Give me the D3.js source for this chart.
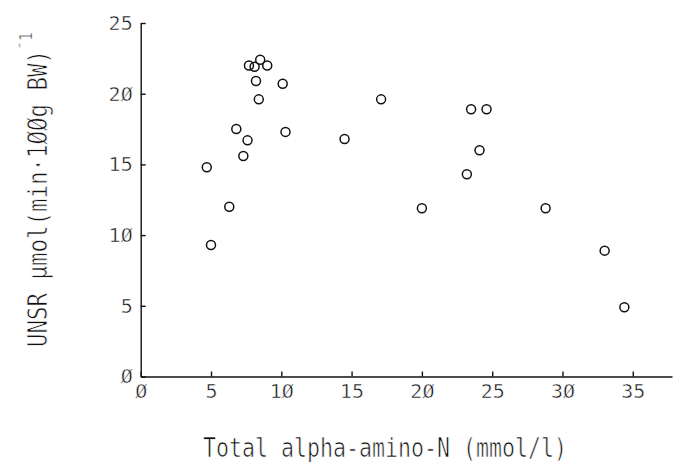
<!DOCTYPE html>
<html>
<head>
<meta charset="utf-8">
<script src="https://cdn.jsdelivr.net/npm/d3@7"></script>
<style>
    body { margin: 0; background: #fff; }
    .axis text { font-family: "DejaVu Sans Mono", monospace; font-size: 20px; fill: #111; stroke: #fff; stroke-width: 0.5px; }
    .axis path, .axis line { stroke: #111; stroke-width: 1.4; }
    .axis-title { font-family: "DejaVu Sans Mono", monospace; fill: #111; stroke: #fff; stroke-width: 0.7px; }
</style>
</head>
<body>
<svg id="chart"></svg>
<script>
// total alpha-amino-N (mmol/l) vs UNSR
const aminoN = [7.7, 8.1, 8.5, 9.0, 8.2, 10.1, 8.4, 17.1, 6.8, 10.3, 7.6, 14.5,
    7.3, 4.7, 6.3, 20.0, 5.0, 23.5, 24.6, 24.1, 23.2, 28.8, 33.0, 34.4];
const unsr = [22.0, 21.9, 22.4, 22.0, 20.9, 20.7, 19.6, 19.6, 17.5, 17.3, 16.7, 16.8,
    15.6, 14.8, 12.0, 11.9, 9.3, 18.9, 18.9, 16.0, 14.3, 11.9, 8.9, 4.9];
const xTicks = [0, 5, 10, 15, 20, 25, 30, 35];
const yTicks = [0, 5, 10, 15, 20, 25];
const xTitle = "Total alpha-amino-N (mmol/l)";
const yTitle = "UNSR \u03bcmol(min\u00b7100g BW)";

// the plotter drew slashed zeros
const slashed = s => String(s).replace(/0/g, "\u00d8");

class Scatterplot {
    constructor(_config, _data) {
        this.config = {
            parentElement: _config.parentElement,
            containerWidth: _config.containerWidth || 686,
            containerHeight: _config.containerHeight || 462,
            margin: _config.margin || { top: 23, right: 14, bottom: 85.5, left: 140.7 },
            pointSize: 4.5
        };
        this.data = _data;
        this.initVis();
    }

    initVis() {
        let vis = this;

        vis.width = vis.config.containerWidth - vis.config.margin.left - vis.config.margin.right;
        vis.height = vis.config.containerHeight - vis.config.margin.top - vis.config.margin.bottom;

        vis.xScale = d3.scaleLinear().domain([0, 37.79]).range([0, vis.width]);
        vis.yScale = d3.scaleLinear().domain([0, 25]).range([vis.height, 0]);

        vis.xAxis = d3.axisBottom(vis.xScale).tickValues(xTicks).tickFormat(slashed)
            .tickSizeInner(-5).tickSizeOuter(0).tickPadding(7);
        vis.yAxis = d3.axisLeft(vis.yScale).tickValues(yTicks).tickFormat(slashed)
            .tickSizeInner(-5).tickSizeOuter(0).tickPadding(8);

        vis.svg = d3.select(vis.config.parentElement)
            .attr('width', vis.config.containerWidth)
            .attr('height', vis.config.containerHeight);

        vis.chart = vis.svg.append('g')
            .attr('transform', `translate(${vis.config.margin.left},${vis.config.margin.top})`);

        vis.xAxisG = vis.chart.append('g')
            .attr('class', 'axis x-axis')
            .attr('transform', `translate(0,${vis.height})`);

        vis.yAxisG = vis.chart.append('g')
            .attr('class', 'axis y-axis');

        // x title
        vis.svg.append('text')
            .attr('class', 'axis-title')
            .attr('x', 203)
            .attr('y', 457)
            .attr('font-size', 26)
            .attr('textLength', 364)
            .attr('lengthAdjust', 'spacingAndGlyphs')
            .text(xTitle);

        // y title, rotated, with the -1 exponent on its own
        vis.svg.append('text')
            .attr('class', 'axis-title')
            .attr('transform', 'translate(47,347) rotate(-90)')
            .attr('font-size', 26)
            .attr('textLength', 297)
            .attr('lengthAdjust', 'spacingAndGlyphs')
            .text(slashed(yTitle));

        vis.svg.append('text')
            .attr('class', 'axis-title')
            .attr('transform', 'translate(32,50) rotate(-90)')
            .attr('font-size', 18)
            .attr('textLength', 18)
            .attr('lengthAdjust', 'spacingAndGlyphs')
            .text('\u00af1');
    }

    updateVis() {
        let vis = this;
        vis.xValue = d => d.x;
        vis.yValue = d => d.y;
        vis.renderVis();
    }

    renderVis() {
        let vis = this;

        vis.xAxisG.call(vis.xAxis);
        vis.yAxisG.call(vis.yAxis);

        vis.chart.selectAll('.point')
            .data(vis.data)
            .join('circle')
            .attr('class', 'point')
            .attr('r', vis.config.pointSize)
            .attr('cx', d => vis.xScale(vis.xValue(d)))
            .attr('cy', d => vis.yScale(vis.yValue(d)))
            .attr('fill', 'none')
            .attr('stroke', '#111')
            .attr('stroke-width', 1.5);
    }
}

const data = aminoN.map((x, i) => ({ x: x, y: unsr[i] }));
const scatterplot = new Scatterplot({ parentElement: '#chart' }, data);
scatterplot.updateVis();
</script>
</body>
</html>
